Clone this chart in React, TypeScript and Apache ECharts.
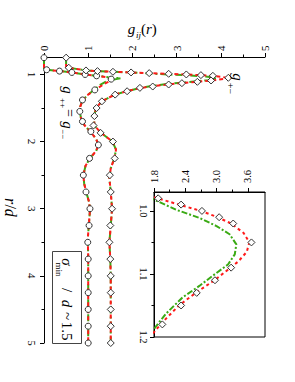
import React, { useEffect, useRef } from 'react';
import * as echarts from 'echarts';

// ---------- axis ticks ----------
const G_TICKS_MAIN = [0, 1, 2, 3, 4, 5];
const R_TICKS_MAIN = [1, 2, 3, 4, 5];
const R_MINOR_MAIN = [1.5, 2.5, 3.5, 4.5];
const G_TICKS_INSET = [1.8, 2.4, 3.0, 3.6];
const G_MINOR_INSET = [2.1, 2.7, 3.3];
const R_TICKS_INSET = [1.0, 1.1, 1.2];
const R_MINOR_INSET = [1.05, 1.15];

// ---------- main panel: g+- (plotted shifted by +0.5), simulation (diamonds) ----------
const PM_SIM_R = [0.75, 0.90, 0.94, 0.95, 0.96, 0.97, 0.98, 0.99, 1.00, 1.01, 1.02, 1.05, 1.09, 1.11, 1.13, 1.15, 1.18, 1.20, 1.25, 1.30, 1.40, 1.50, 1.62, 1.76, 1.87, 2.00, 2.25, 2.50, 2.75, 3.00, 3.25, 3.50, 3.75, 4.00, 4.25, 4.50, 4.75, 5.00];
const PM_SIM_G = [0.50, 0.56, 0.95, 1.21, 1.56, 1.97, 2.38, 2.82, 3.22, 3.55, 3.82, 4.17, 3.78, 3.47, 3.12, 2.82, 2.46, 2.17, 1.88, 1.61, 1.31, 1.19, 1.14, 1.12, 1.28, 1.56, 1.60, 1.49, 1.51, 1.54, 1.50, 1.48, 1.50, 1.51, 1.51, 1.51, 1.51, 1.51];

// g+- theory (red dashed)
const PM_RED_R = [0.74, 0.895, 0.90, 0.94, 0.95, 0.96, 0.97, 0.98, 0.99, 1.00, 1.01, 1.02, 1.035, 1.05, 1.065, 1.08, 1.09, 1.11, 1.13, 1.15, 1.17, 1.20, 1.25, 1.30, 1.40, 1.50, 1.62, 1.76, 1.87, 2.00, 2.12, 2.25, 2.40, 2.55, 2.75, 3.00, 3.25, 3.50, 3.75, 4.00, 5.00];
const PM_RED_G = [0.50, 0.50, 0.56, 0.95, 1.21, 1.56, 1.97, 2.38, 2.80, 3.20, 3.52, 3.78, 4.02, 4.13, 4.08, 3.92, 3.77, 3.46, 3.10, 2.78, 2.52, 2.20, 1.87, 1.60, 1.31, 1.18, 1.13, 1.14, 1.29, 1.55, 1.63, 1.59, 1.51, 1.48, 1.51, 1.54, 1.51, 1.48, 1.50, 1.51, 1.51];
// g+- theory (green dash-dot)
const PM_GRN_R = [0.74, 0.895, 0.90, 0.94, 0.95, 0.96, 0.97, 0.982, 0.998, 1.011, 1.024, 1.037, 1.053, 1.069, 1.085, 1.099, 1.119, 1.137, 1.163, 1.187, 1.20, 1.25, 1.30, 1.40, 1.50, 1.62, 1.76, 1.87, 2.00, 2.12, 2.25, 2.40, 2.55, 2.75, 3.00, 3.25, 3.50, 3.75, 4.00, 5.00];
const PM_GRN_G = [0.50, 0.50, 0.56, 0.95, 1.21, 1.56, 1.95, 2.30, 2.72, 3.17, 3.50, 3.75, 3.88, 3.85, 3.72, 3.49, 3.17, 2.85, 2.53, 2.30, 2.18, 1.87, 1.60, 1.31, 1.18, 1.13, 1.14, 1.29, 1.55, 1.63, 1.59, 1.51, 1.48, 1.51, 1.54, 1.51, 1.48, 1.50, 1.51, 1.51];

// ---------- main panel: g++ = g--, simulation (circles) ----------
const PP_SIM_R = [0.75, 0.93, 0.95, 0.97, 1.00, 1.02, 1.07, 1.23, 1.38, 1.55, 1.70, 1.85, 2.05, 2.25, 2.50, 2.75, 3.00, 3.25, 3.50, 3.75, 4.00, 4.25, 4.50, 4.75, 5.00];
const PP_SIM_G = [0.00, 0.06, 0.35, 0.63, 0.93, 1.19, 1.52, 1.15, 0.87, 0.81, 0.87, 1.06, 1.23, 1.03, 0.89, 0.95, 1.04, 1.02, 0.99, 1.00, 1.00, 1.00, 1.00, 1.00, 1.00];

const PP_RED_R = [0.74, 0.92, 0.93, 0.95, 0.97, 1.00, 1.02, 1.04, 1.07, 1.11, 1.16, 1.23, 1.31, 1.39, 1.48, 1.56, 1.66, 1.76, 1.86, 1.96, 2.05, 2.14, 2.24, 2.36, 2.50, 2.63, 2.76, 2.90, 3.02, 3.20, 3.45, 3.70, 5.00];
const PP_RED_G = [0.00, 0.00, 0.06, 0.35, 0.63, 0.93, 1.19, 1.40, 1.52, 1.45, 1.32, 1.15, 0.98, 0.87, 0.82, 0.81, 0.84, 0.92, 1.06, 1.18, 1.23, 1.18, 1.05, 0.94, 0.89, 0.91, 0.96, 1.02, 1.04, 1.02, 0.99, 1.00, 1.00];
const PP_GRN_R = [0.74, 0.92, 0.93, 0.95, 0.97, 1.00, 1.02, 1.04, 1.057, 1.08, 1.10, 1.15, 1.22, 1.31, 1.39, 1.48, 1.56, 1.66, 1.76, 1.86, 1.96, 2.05, 2.14, 2.24, 2.36, 2.50, 2.63, 2.76, 2.90, 3.02, 3.20, 3.45, 3.70, 5.00];
const PP_GRN_G = [0.00, 0.00, 0.06, 0.35, 0.63, 0.93, 1.19, 1.45, 1.74, 1.55, 1.42, 1.28, 1.15, 0.98, 0.87, 0.82, 0.81, 0.84, 0.92, 1.06, 1.18, 1.23, 1.18, 1.05, 0.94, 0.89, 0.91, 0.96, 1.02, 1.04, 1.02, 0.99, 1.00, 1.00];

// ---------- inset: g+- (unshifted) near contact ----------
const IN_SIM_R = [0.98, 0.99, 1.00, 1.01, 1.02, 1.05, 1.09, 1.11, 1.13, 1.15, 1.18];
const IN_SIM_G = [1.88, 2.32, 2.72, 3.05, 3.32, 3.67, 3.28, 2.97, 2.62, 2.32, 1.96];
const IN_RED_R = [0.97, 0.979, 0.99, 1.00, 1.01, 1.02, 1.035, 1.05, 1.065, 1.08, 1.09, 1.11, 1.13, 1.15, 1.17, 1.19, 1.20];
const IN_RED_G = [1.47, 1.83, 2.28, 2.70, 3.02, 3.28, 3.52, 3.63, 3.58, 3.42, 3.27, 2.96, 2.60, 2.28, 2.04, 1.82, 1.74];
const IN_GRN_R = [0.97, 0.982, 0.998, 1.011, 1.024, 1.037, 1.053, 1.069, 1.085, 1.099, 1.119, 1.137, 1.163, 1.187, 1.20];
const IN_GRN_G = [1.49, 1.80, 2.22, 2.67, 3.00, 3.25, 3.38, 3.35, 3.22, 2.99, 2.67, 2.35, 2.03, 1.80, 1.68];

const SERIF = '"Liberation Serif", "Times New Roman", Times, serif';
const RED = '#ff1a1a';
const GREEN = '#3aaa14';

const pairs = (r: number[], g: number[]) => r.map((v, i) => [g[i], v]);

const rt = (x: number, y: number, text: string, size: number, italic = false) => ({
  type: 'text',
  x,
  y,
  rotation: -Math.PI / 2,
  silent: true,
  z: 10,
  style: {
    text,
    fontSize: size,
    fontFamily: SERIF,
    fontStyle: italic ? 'italic' : 'normal',
    fill: '#000',
    align: 'center',
    verticalAlign: 'middle',
  },
});
const ht = (x: number, y: number, text: string, size: number, italic = false) => ({
  type: 'text',
  x,
  y,
  silent: true,
  z: 10,
  style: {
    text,
    fontSize: size,
    fontFamily: SERIF,
    fontStyle: italic ? 'italic' : 'normal',
    fill: '#000',
    align: 'center',
    verticalAlign: 'middle',
  },
});

const axisCommon = {
  axisLine: { show: true, lineStyle: { color: '#000', width: 1 } },
  splitLine: { show: false },
  minorSplitLine: { show: false },
};

export default function App() {
  const ref = useRef<HTMLDivElement>(null);
  useEffect(() => {
    if (!ref.current) return;
    const chart = echarts.init(ref.current, undefined, { renderer: 'svg' });
    const lineSeries = (data: number[][], color: string, dash: number[], width: number, xi: number, yi: number, clip: boolean) => ({
      type: 'line',
      data,
      xAxisIndex: xi,
      yAxisIndex: yi,
      symbol: 'none',
      showSymbol: false,
      clip,
      silent: true,
      lineStyle: { color, width, type: dash },
    });
    const markerSeries = (data: number[][], symbol: string, size: number, xi: number, yi: number) => ({
      type: 'scatter',
      data,
      xAxisIndex: xi,
      yAxisIndex: yi,
      symbol,
      symbolSize: size,
      clip: false,
      silent: true,
      z: 5,
      itemStyle: { color: '#fff', borderColor: '#333', borderWidth: 1, opacity: 1 },
    });
    const option: any = {
      animation: false,
      backgroundColor: '#fff',
      grid: [
        { left: 44, top: 57, width: 221, height: 286, show: false },
        { left: 154, top: 192, width: 111, height: 145, show: true, borderColor: '#000', borderWidth: 1, backgroundColor: 'rgba(0,0,0,0)' },
      ],
      xAxis: [
        {
          ...axisCommon,
          gridIndex: 0, type: 'value', position: 'top', min: 0, max: 5, interval: 1,
          axisTick: { show: true, length: 4, lineStyle: { color: '#000' }, customValues: G_TICKS_MAIN },
          minorTick: { show: true, splitNumber: 2, length: 2.5, lineStyle: { color: '#000' } },
          axisLabel: { customValues: G_TICKS_MAIN, rotate: -90, margin: 6, fontFamily: SERIF, fontSize: 11, color: '#000' },
        },
        {
          ...axisCommon,
          gridIndex: 1, type: 'value', position: 'top', min: 1.8, max: 3.93,
          axisTick: { show: true, length: 4, lineStyle: { color: '#000' }, customValues: G_TICKS_INSET },
          axisLabel: { customValues: G_TICKS_INSET, rotate: -90, margin: 9, fontFamily: SERIF, fontSize: 10.5, color: '#000', formatter: (v: number) => v.toFixed(1) },
        },
        {
          ...axisCommon,
          gridIndex: 1, type: 'value', position: 'top', min: 1.8, max: 3.93,
          axisLine: { show: false },
          axisTick: { show: true, length: 2.5, lineStyle: { color: '#000' }, customValues: G_MINOR_INSET },
          axisLabel: { show: false },
        },
      ],
      yAxis: [
        {
          ...axisCommon,
          gridIndex: 0, type: 'value', position: 'left', inverse: true, min: 0.74, max: 5,
          axisTick: { show: true, length: 4, lineStyle: { color: '#000' }, customValues: R_TICKS_MAIN },
          axisLabel: { customValues: R_TICKS_MAIN, rotate: -90, margin: 7, fontFamily: SERIF, fontSize: 11, color: '#000' },
        },
        {
          ...axisCommon,
          gridIndex: 0, type: 'value', position: 'left', inverse: true, min: 0.74, max: 5,
          axisLine: { show: false },
          axisTick: { show: true, length: 2.5, lineStyle: { color: '#000' }, customValues: R_MINOR_MAIN },
          axisLabel: { show: false },
        },
        {
          ...axisCommon,
          gridIndex: 1, type: 'value', position: 'left', inverse: true, min: 0.97, max: 1.2,
          axisTick: { show: true, length: 4, lineStyle: { color: '#000' }, customValues: R_TICKS_INSET },
          axisLabel: { customValues: R_TICKS_INSET, rotate: -90, margin: 5, fontFamily: SERIF, fontSize: 10.5, color: '#000', formatter: (v: number) => v.toFixed(1) },
        },
        {
          ...axisCommon,
          gridIndex: 1, type: 'value', position: 'left', inverse: true, min: 0.97, max: 1.2,
          axisLine: { show: false },
          axisTick: { show: true, length: 2.5, lineStyle: { color: '#000' }, customValues: R_MINOR_INSET },
          axisLabel: { show: false },
        },
      ],
      series: [
        lineSeries(pairs(PP_GRN_R, PP_GRN_G), GREEN, [7, 3, 2, 3], 2, 0, 0, false),
        lineSeries(pairs(PM_GRN_R, PM_GRN_G), GREEN, [7, 3, 2, 3], 2, 0, 0, false),
        lineSeries(pairs(PP_RED_R, PP_RED_G), RED, [4, 3], 2, 0, 0, false),
        lineSeries(pairs(PM_RED_R, PM_RED_G), RED, [4, 3], 2, 0, 0, false),
        markerSeries(pairs(PP_SIM_R, PP_SIM_G), 'circle', 6, 0, 0),
        markerSeries(pairs(PM_SIM_R, PM_SIM_G), 'diamond', 7, 0, 0),
        lineSeries(pairs(IN_GRN_R, IN_GRN_G), GREEN, [6, 2, 2, 2], 2, 1, 2, true),
        lineSeries(pairs(IN_RED_R, IN_RED_G), RED, [3, 3], 2, 1, 2, true),
        markerSeries(pairs(IN_SIM_R, IN_SIM_G), 'diamond', 7, 1, 2),
      ],
      graphic: [
        // g_ij(r)
        ht(131.5, 29, 'g', 15, true),
        ht(138.5, 35, 'ij', 9, true),
        ht(143.5, 29, '(', 15),
        ht(148.9, 29, 'r', 15, true),
        ht(154.3, 29, ')', 15),
        // r/d
        rt(10.5, 201, 'r', 16, true),
        rt(10.5, 206.6, '/', 16),
        rt(10.5, 212.8, 'd', 16, true),
        // g+-
        rt(238, 77, 'g', 15, true),
        rt(230.5, 88.5, '+\u2212', 10),
        // g++ = g--
        rt(68, 90, 'g', 15, true),
        rt(63, 103, '++', 9),
        rt(69, 113, '=', 14),
        rt(68, 125, 'g', 15, true),
        rt(63, 134, '\u2212\u2212', 9),
        // sigma box
        {
          type: 'rect', silent: true, z: 9,
          shape: { x: 52.5, y: 251.5, width: 29, height: 92 },
          style: { fill: 'none', stroke: '#444', lineWidth: 1 },
        },
        rt(66.5, 262, '\u03c3', 15, true),
        rt(58.5, 269.5, 'min', 9),
        rt(66.5, 290, '/', 15),
        rt(66.5, 303.5, 'd', 15, true),
        rt(66.5, 316, '~', 15),
        rt(66.5, 331, '1.5', 15),
      ],
    };
    chart.setOption(option);
    return () => chart.dispose();
  }, []);
  return (
    <div
      ref={ref}
      style={{ position: 'fixed', left: 0, top: 0, width: 295, height: 382, background: '#fff' }}
    />
  );
}
